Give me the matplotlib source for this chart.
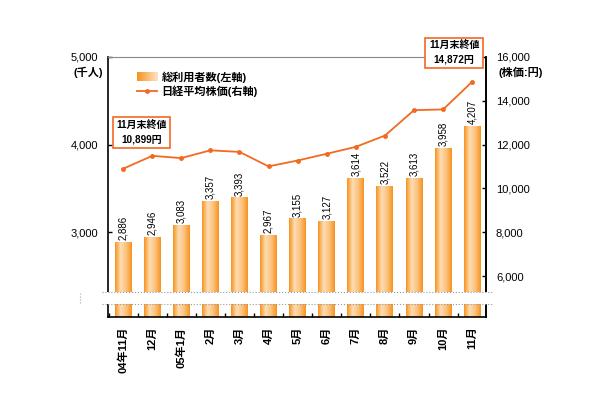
import matplotlib
matplotlib.use("Agg")
import matplotlib.pyplot as plt
import numpy as np
from matplotlib.colors import LinearSegmentedColormap
from matplotlib.patches import Rectangle
from matplotlib.lines import Line2D

plt.rcParams['font.family'] = ['Liberation Sans', 'Noto Sans CJK JP', 'DejaVu Sans']

months = ['04年11月', '12月', '05年1月', '2月', '3月', '4月', '5月',
          '6月', '7月', '8月', '9月', '10月', '11月']
users = [2886, 2946, 3083, 3357, 3393, 2967, 3155, 3127, 3614, 3522, 3613, 3958, 4207]
nikkei = [10899, 11489, 11388, 11741, 11669, 11009, 11277, 11584, 11900, 12414, 13574, 13607, 14872]

bar_edge = '#F7931E'
line_col = '#F26A21'
ybot = 2034

fig = plt.figure(figsize=(6.1, 4.0), dpi=100)
ax = fig.add_axes([0.177, 0.2075, 0.62, 0.65])
x = np.arange(len(users))
w = 0.58

cmap = LinearSegmentedColormap.from_list('bar', [bar_edge, '#FDDDB4', '#FBC27E', bar_edge])
grad = np.linspace(0, 1, 64).reshape(1, -1)
bars = ax.bar(x, users, width=w, color='none', edgecolor='none')
for b in bars:
    ax.imshow(grad, cmap=cmap, aspect='auto', interpolation='bilinear',
              extent=[b.get_x(), b.get_x() + b.get_width(), ybot, b.get_height()], zorder=2)

for xi, v in zip(x, users):
    ax.text(xi, v + 25, f'{v:,}', rotation=90, ha='center', va='bottom', fontsize=7)

ax.set_xlim(-0.52, 12.48)
ax.set_ylim(ybot, 5000)
ax.set_yticks([3000, 4000, 5000])
ax.set_yticklabels(['3,000', '4,000', '5,000'], fontsize=8)
ax.set_xticks(x)
ax.set_xticklabels(months, rotation=90, fontsize=8, fontweight='bold')
ax.set_xticks(np.arange(-0.5, 12.5, 1), minor=True)
ax.tick_params(axis='x', which='major', length=0, pad=7)
ax.tick_params(axis='x', which='minor', direction='in', length=3, width=1)
ax.tick_params(axis='y', direction='in', length=3, width=1, pad=7)
for s in ['left', 'bottom', 'right']:
    ax.spines[s].set_linewidth(1.2)
ax.spines['top'].set_color('#888888')
ax.spines['top'].set_linewidth(0.8)

ax2 = ax.twinx()
ax2.plot(x, nikkei, color=line_col, lw=1.3, marker='o', ms=2.5)
ax2.set_ylim(4136, 16000)
ax2.set_yticks([6000, 8000, 10000, 12000, 14000, 16000])
ax2.set_yticklabels(['6,000', '8,000', '10,000', '12,000', '14,000', '16,000'], fontsize=8)
ax2.tick_params(axis='y', direction='in', length=3, width=1, pad=7)
ax2.spines['right'].set_linewidth(1.2)
for s in ['left', 'top', 'bottom']:
    ax2.spines[s].set_visible(False)

fig.text(0.145, 0.82, '(千人)', fontsize=8, ha='center', va='center', fontweight='bold')
fig.text(0.853, 0.82, '(株価:円)', fontsize=8, ha='center', va='center', fontweight='bold')

box = dict(boxstyle='square,pad=0.35', fc='white', ec=line_col, lw=1.2)
ax2.text(0.64, 12560, '11月末終値\n10,899円', fontsize=7.2, ha='center', va='center',
         bbox=box, linespacing=1.4, fontweight='bold')
ax2.text(11.38, 16190, '11月末終値\n14,872円', fontsize=7.2, ha='center', va='center',
         bbox=box, linespacing=1.4, zorder=5, fontweight='bold')

# legend
lg = LinearSegmentedColormap.from_list('lg', [bar_edge, '#FDE3C4'])
lax = fig.add_axes([0.225, 0.797, 0.033, 0.022])
lax.imshow(grad, cmap=lg, aspect='auto', interpolation='bilinear')
lax.axis('off')
fig.text(0.265, 0.808, '総利用者数(左軸)', fontsize=8, va='center', fontweight='bold')
fig.lines.append(Line2D([0.225, 0.2415, 0.258], [0.772, 0.772, 0.772], transform=fig.transFigure,
                        color=line_col, lw=1.3, marker='o', ms=2.5, markevery=[1]))
fig.text(0.265, 0.772, '日経平均株価(右軸)', fontsize=8, va='center', fontweight='bold')

# axis break band
fig.patches.append(Rectangle((0.167, 0.241), 0.642, 0.029, transform=fig.transFigure,
                             fc='white', ec='none', zorder=3))
for yy in (0.27, 0.241):
    fig.lines.append(Line2D([0.167, 0.809], [yy, yy], transform=fig.transFigure,
                            color='#999999', lw=0.8, ls=':', zorder=4))
fig.lines.append(Line2D([0.131, 0.131], [0.243, 0.268], transform=fig.transFigure,
                        color='#aaaaaa', lw=0.8, ls=':', zorder=4))

fig.savefig('out.png', dpi=100)
